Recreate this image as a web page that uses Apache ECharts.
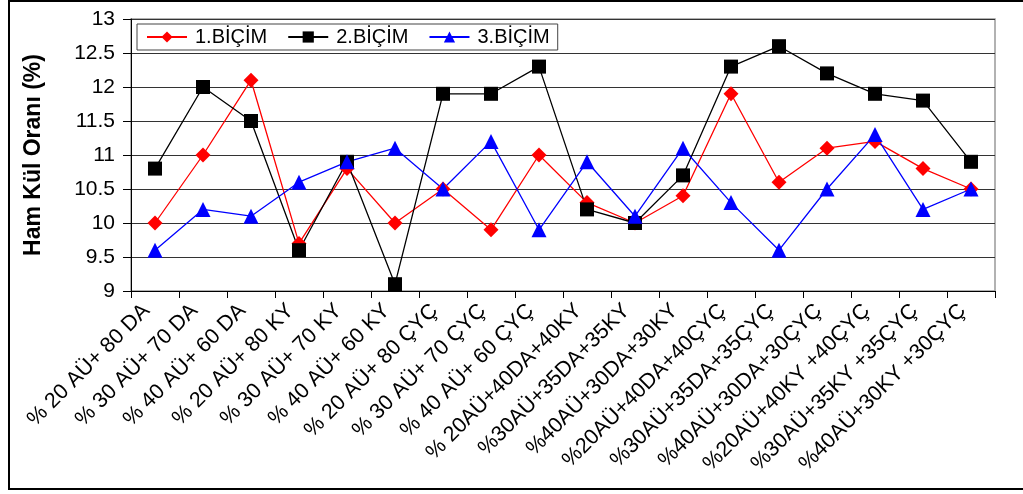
<!DOCTYPE html>
<html>
<head>
<meta charset="utf-8">
<script src="https://cdn.jsdelivr.net/npm/echarts@6/dist/echarts.min.js"></script>
<style>
  html, body { margin: 0; padding: 0; background: #fff; }
  #chart { width: 1023px; height: 494px; }
</style>
</head>
<body>
<div id="chart"></div>
<script>
// Mixture treatments (x axis)
const categories = [
  '% 20 AÜ+ 80 DA', '% 30 AÜ+ 70 DA', '% 40 AÜ+ 60 DA',
  '% 20 AÜ+ 80 KY', '% 30 AÜ+ 70 KY', '% 40 AÜ+ 60 KY',
  '% 20 AÜ+ 80 ÇYÇ', '% 30 AÜ+ 70 ÇYÇ', '% 40 AÜ+ 60 ÇYÇ',
  '% 20AÜ+40DA+40KY', '%30AÜ+35DA+35KY', '%40AÜ+30DA+30KY',
  '%20AÜ+40DA+40ÇYÇ', '%30AÜ+35DA+35ÇYÇ', '%40AÜ+30DA+30ÇYÇ',
  '%20AÜ+40KY +40ÇYÇ', '%30AÜ+35KY +35ÇYÇ', '%40AÜ+30KY +30ÇYÇ'
];

// Crude ash ratio (%) per cutting
const bicim1 = [10.0, 11.0, 12.1, 9.7, 10.8, 10.0, 10.5, 9.9, 11.0, 10.3, 10.0, 10.4, 11.9, 10.6, 11.1, 11.2, 10.8, 10.5];
const bicim2 = [10.8, 12.0, 11.5, 9.6, 10.9, 9.1, 11.9, 11.9, 12.3, 10.2, 10.0, 10.7, 12.3, 12.6, 12.2, 11.9, 11.8, 10.9];
const bicim3 = [9.6, 10.2, 10.1, 10.6, 10.9, 11.1, 10.5, 11.2, 9.9, 10.9, 10.1, 11.1, 10.3, 9.6, 10.5, 11.3, 10.2, 10.5];

const seriesNames = ['1.BİÇİM', '2.BİÇİM', '3.BİÇİM'];
const yTicks = { min: 9, max: 13, step: 0.5 };

const FONT = 'Liberation Sans, Arial, sans-serif';
const chart = echarts.init(document.getElementById('chart'));

function lineSeries(name, data, color, symbol, size) {
  return {
    name: name,
    type: 'line',
    data: data,
    symbol: symbol,
    symbolSize: size,
    lineStyle: { color: color, width: 1.3 },
    itemStyle: { color: color },
    emphasis: { disabled: true },
    animation: false
  };
}

chart.setOption({
  animation: false,
  backgroundColor: '#fff',
  graphic: [{
    type: 'rect',
    shape: { x: 9, y: 1, width: 1100, height: 488 },
    style: { fill: 'none', stroke: '#000', lineWidth: 2 },
    silent: true,
    z: 100
  }],
  grid: {
    left: 131, right: 28, top: 19, bottom: 203,
    show: true, borderColor: '#999', borderWidth: 1.5, backgroundColor: '#fff'
  },
  legend: {
    left: 137, top: 24,
    padding: [3, 8, 3, 9],
    itemGap: 20,
    itemWidth: 40, itemHeight: 14,
    backgroundColor: '#fff',
    borderColor: '#444', borderWidth: 1, borderRadius: 0,
    textStyle: { fontFamily: FONT, fontSize: 20, color: '#000', padding: [0, 0, 0, 3] },
    data: seriesNames
  },
  xAxis: {
    type: 'category',
    data: categories,
    boundaryGap: true,
    axisLine: { lineStyle: { color: '#000', width: 1 } },
    axisTick: { show: true, length: 7, inside: false, lineStyle: { color: '#000' } },
    axisLabel: {
      rotate: 45, interval: 0, margin: 8,
      padding: [0, 12, 0, 0],
      fontFamily: FONT, fontSize: 21.5, color: '#000'
    },
    splitLine: { show: false }
  },
  yAxis: {
    type: 'value',
    min: yTicks.min, max: yTicks.max, interval: yTicks.step,
    name: 'Ham Kül Oranı (%)',
    nameLocation: 'middle',
    nameGap: 86,
    nameTextStyle: { fontFamily: FONT, fontSize: 23, fontWeight: 'bold', color: '#000' },
    axisLine: { show: true, lineStyle: { color: '#000', width: 1 } },
    axisTick: { show: true, length: 8, lineStyle: { color: '#000' } },
    axisLabel: { fontFamily: FONT, fontSize: 21, color: '#000', margin: 16 },
    splitLine: { show: true, lineStyle: { color: '#333', width: 1 } }
  },
  series: [
    lineSeries(seriesNames[0], bicim1, '#ff0000', 'diamond', 15),
    lineSeries(seriesNames[1], bicim2, '#000000', 'rect', 14),
    lineSeries(seriesNames[2], bicim3, '#0000ff', 'triangle', 15)
  ]
});
</script>
</body>
</html>
